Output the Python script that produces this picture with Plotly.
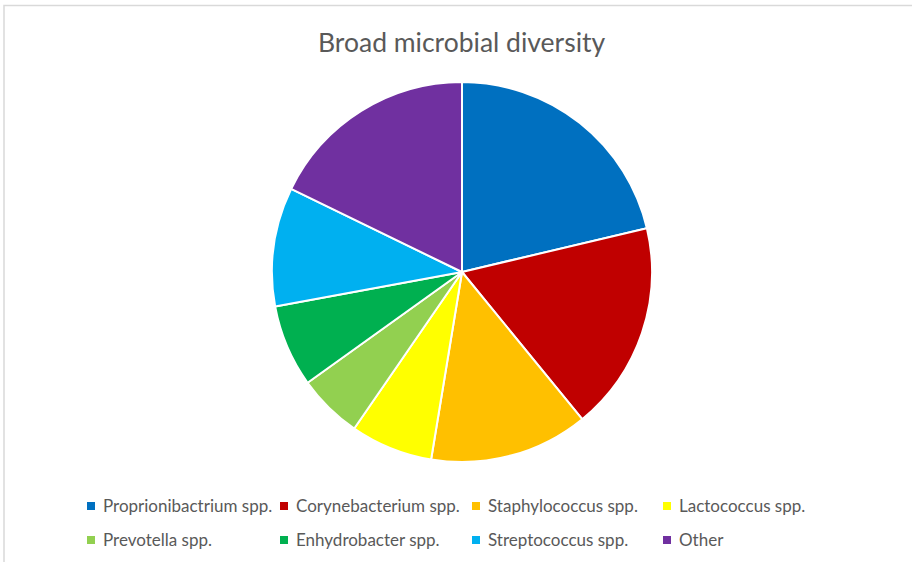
import plotly.graph_objects as go

labels = ["Proprionibactrium spp.", "Corynebacterium spp.", "Staphylococcus spp.",
          "Lactococcus spp.", "Prevotella spp.", "Enhydrobacter spp.",
          "Streptococcus spp.", "Other"]
values = [21.3, 17.8, 13.5, 7.0, 5.5, 7.0, 10.1, 17.8]
colors = ["#0070C0", "#C00000", "#FFC000", "#FFFF00",
          "#92D050", "#00B050", "#00B0F0", "#7030A0"]
title_text = "Broad microbial diversity"

W, H = 912, 562
FONT = "Lato"
TXT = "#595959"

fig = go.Figure()
fig.add_trace(go.Pie(
    labels=labels, values=values, sort=False, direction="clockwise", rotation=0,
    marker=dict(colors=colors, line=dict(color="white", width=2)),
    textinfo="none", hoverinfo="label+percent", showlegend=False,
    domain=dict(x=[(462 - 190) / W, (462 + 190) / W],
                y=[1 - 462 / H, 1 - 82 / H]),
))

def px(x):
    return x / W

def py(y):
    return 1 - y / H

shapes = [dict(type="rect", xref="paper", yref="paper",
               x0=px(4), x1=px(W + 10), y0=py(H + 10), y1=py(5.5),
               line=dict(color="#D9D9D9", width=1.5), fillcolor="rgba(0,0,0,0)")]
annotations = [dict(text=title_text, x=px(462), y=py(42), xref="paper", yref="paper",
                    showarrow=False, xanchor="center", yanchor="middle",
                    font=dict(family=FONT, size=26.5, color=TXT))]

col_x = [87, 280, 472, 663]
row_y = [506, 540]
for i, (lab, col) in enumerate(zip(labels, colors)):
    r, c = divmod(i, 4)
    sx, sy = col_x[c], row_y[r]
    shapes.append(dict(type="rect", xref="paper", yref="paper",
                       x0=px(sx), x1=px(sx + 8), y0=py(sy + 4), y1=py(sy - 4),
                       line=dict(width=0), fillcolor=col))
    annotations.append(dict(text=lab, x=px(sx + 14), y=py(sy - 1), xref="paper", yref="paper",
                            showarrow=False, xanchor="left", yanchor="middle",
                            font=dict(family=FONT, size=17, color=TXT)))

fig.update_layout(
    width=W, height=H, margin=dict(l=0, r=0, t=0, b=0),
    paper_bgcolor="white", plot_bgcolor="white",
    shapes=shapes, annotations=annotations,
)

fig.write_html("out.html")
